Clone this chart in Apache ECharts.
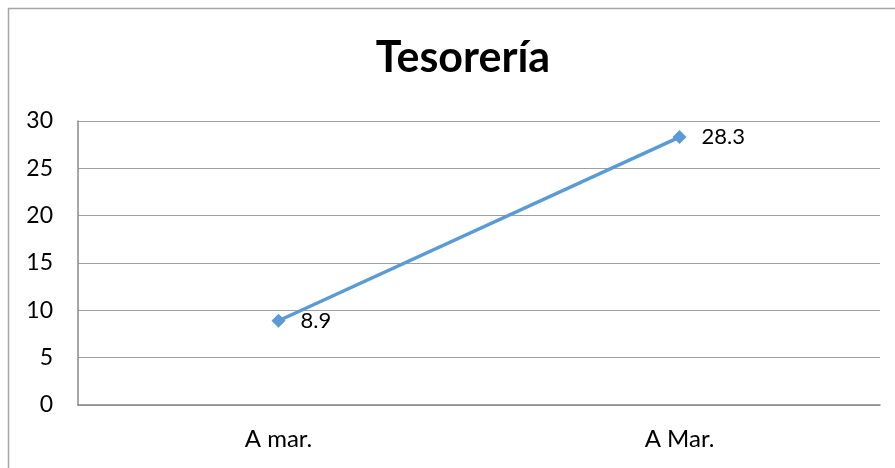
<!DOCTYPE html>
<html>
<head>
<meta charset="utf-8">
<script src="https://cdn.jsdelivr.net/npm/echarts@6/dist/echarts.min.js"></script>
<style>html,body{margin:0;padding:0;background:#fff}#c{width:895px;height:468px}</style>
</head>
<body>
<div id="c"></div>
<script>
const titleText = 'Tesorería';
const categories = ['A mar.', 'A Mar.'];
const values = [8.9, 28.3];
const yTicks = [0, 5, 10, 15, 20, 25, 30];

const chart = echarts.init(document.getElementById('c'), null, {renderer: 'canvas'});
chart.setOption({
  animation: false,
  backgroundColor: '#fff',
  textStyle: {fontFamily: 'Lato'},
  title: {
    text: titleText, left: 458, top: 32, textAlign: 'center',
    textStyle: {fontFamily: 'Lato', fontWeight: 'bold', fontSize: 43, color: '#000'}
  },
  graphic: [{
    type: 'rect', shape: {x: 8.5, y: 8.5, width: 1000, height: 1000},
    style: {fill: 'none', stroke: '#a6a6a6', lineWidth: 1.5}, silent: true
  }],
  grid: {left: 78, right: 15, top: 121, bottom: 63},
  xAxis: {
    type: 'category', data: categories, boundaryGap: true,
    axisLine: {lineStyle: {color: '#888', width: 1.5}},
    axisTick: {show: false},
    axisLabel: {color: '#000', fontSize: 24, margin: 22, fontFamily: 'Lato'}
  },
  yAxis: {
    type: 'value', min: yTicks[0], max: yTicks[yTicks.length - 1], interval: 5,
    axisLine: {show: true, lineStyle: {color: '#888', width: 1.5}},
    axisTick: {show: false},
    axisLabel: {color: '#000', fontSize: 23, margin: 25, fontFamily: 'Lato'},
    splitLine: {lineStyle: {color: '#a0a0a0', width: 1.2}}
  },
  series: [{
    type: 'line', data: values,
    lineStyle: {color: '#5B9BD5', width: 3.5},
    itemStyle: {color: '#5B9BD5'},
    symbol: 'diamond', symbolSize: 14,
    label: {show: true, position: 'right', distance: 15, color: '#000', fontSize: 22, fontFamily: 'Lato',
      formatter: p => p.value.toFixed(1)}
  }]
});
</script>
</body>
</html>
